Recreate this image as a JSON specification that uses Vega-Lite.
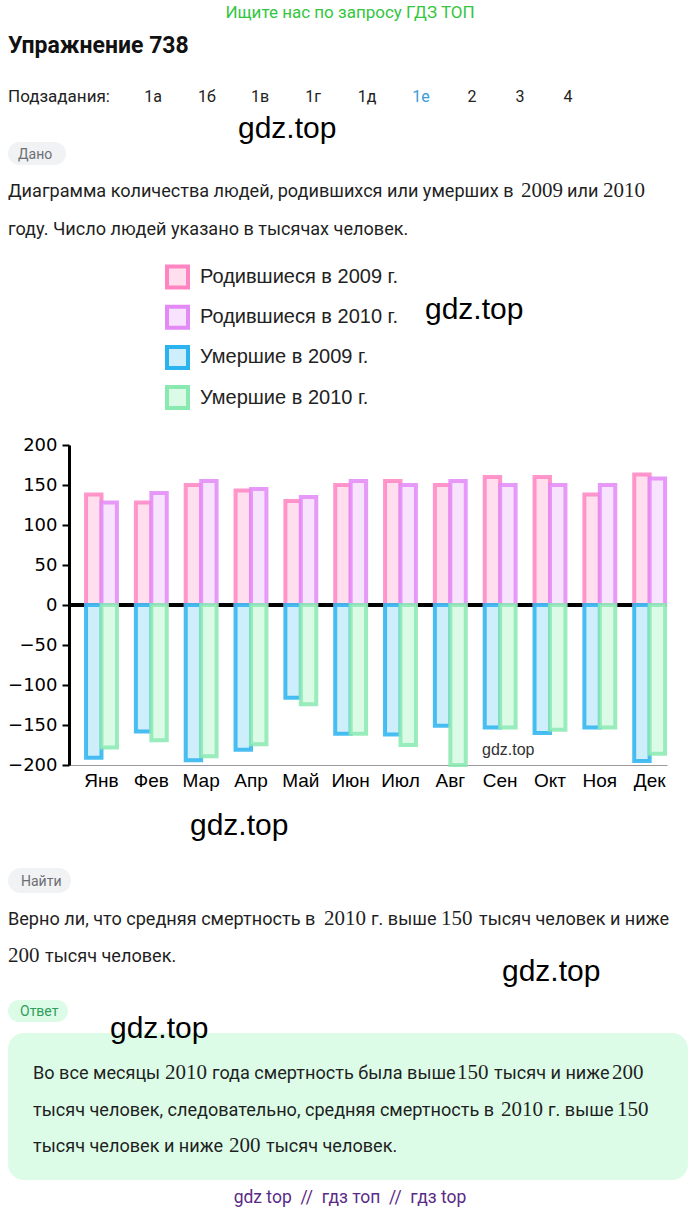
{
  "$schema": "https://vega.github.io/schema/vega-lite/v6.json",
  "width": 598,
  "height": 320,
  "autosize": {"type": "none"},
  "padding": {"left": 69, "top": 445, "right": 33, "bottom": 447},
  "background": "white",
  "config": {"view": {"stroke": null}},
  "datasets": {
    "bars": [
      {"month": "Янв", "year": "2009", "series": "Родившиеся в 2009 г.", "value": 138},
      {"month": "Фев", "year": "2009", "series": "Родившиеся в 2009 г.", "value": 128},
      {"month": "Мар", "year": "2009", "series": "Родившиеся в 2009 г.", "value": 150},
      {"month": "Апр", "year": "2009", "series": "Родившиеся в 2009 г.", "value": 143},
      {"month": "Май", "year": "2009", "series": "Родившиеся в 2009 г.", "value": 130},
      {"month": "Июн", "year": "2009", "series": "Родившиеся в 2009 г.", "value": 150},
      {"month": "Июл", "year": "2009", "series": "Родившиеся в 2009 г.", "value": 155},
      {"month": "Авг", "year": "2009", "series": "Родившиеся в 2009 г.", "value": 150},
      {"month": "Сен", "year": "2009", "series": "Родившиеся в 2009 г.", "value": 160},
      {"month": "Окт", "year": "2009", "series": "Родившиеся в 2009 г.", "value": 160},
      {"month": "Ноя", "year": "2009", "series": "Родившиеся в 2009 г.", "value": 138},
      {"month": "Дек", "year": "2009", "series": "Родившиеся в 2009 г.", "value": 163},
      {"month": "Янв", "year": "2010", "series": "Родившиеся в 2010 г.", "value": 128},
      {"month": "Фев", "year": "2010", "series": "Родившиеся в 2010 г.", "value": 140},
      {"month": "Мар", "year": "2010", "series": "Родившиеся в 2010 г.", "value": 155},
      {"month": "Апр", "year": "2010", "series": "Родившиеся в 2010 г.", "value": 145},
      {"month": "Май", "year": "2010", "series": "Родившиеся в 2010 г.", "value": 135},
      {"month": "Июн", "year": "2010", "series": "Родившиеся в 2010 г.", "value": 155},
      {"month": "Июл", "year": "2010", "series": "Родившиеся в 2010 г.", "value": 150},
      {"month": "Авг", "year": "2010", "series": "Родившиеся в 2010 г.", "value": 155},
      {"month": "Сен", "year": "2010", "series": "Родившиеся в 2010 г.", "value": 150},
      {"month": "Окт", "year": "2010", "series": "Родившиеся в 2010 г.", "value": 150},
      {"month": "Ноя", "year": "2010", "series": "Родившиеся в 2010 г.", "value": 150},
      {"month": "Дек", "year": "2010", "series": "Родившиеся в 2010 г.", "value": 158},
      {"month": "Янв", "year": "2009", "series": "Умершие в 2009 г.", "value": -191},
      {"month": "Фев", "year": "2009", "series": "Умершие в 2009 г.", "value": -158},
      {"month": "Мар", "year": "2009", "series": "Умершие в 2009 г.", "value": -194},
      {"month": "Апр", "year": "2009", "series": "Умершие в 2009 г.", "value": -181},
      {"month": "Май", "year": "2009", "series": "Умершие в 2009 г.", "value": -116},
      {"month": "Июн", "year": "2009", "series": "Умершие в 2009 г.", "value": -161},
      {"month": "Июл", "year": "2009", "series": "Умершие в 2009 г.", "value": -162},
      {"month": "Авг", "year": "2009", "series": "Умершие в 2009 г.", "value": -151},
      {"month": "Сен", "year": "2009", "series": "Умершие в 2009 г.", "value": -153},
      {"month": "Окт", "year": "2009", "series": "Умершие в 2009 г.", "value": -160},
      {"month": "Ноя", "year": "2009", "series": "Умершие в 2009 г.", "value": -153},
      {"month": "Дек", "year": "2009", "series": "Умершие в 2009 г.", "value": -195},
      {"month": "Янв", "year": "2010", "series": "Умершие в 2010 г.", "value": -178},
      {"month": "Фев", "year": "2010", "series": "Умершие в 2010 г.", "value": -169},
      {"month": "Мар", "year": "2010", "series": "Умершие в 2010 г.", "value": -189},
      {"month": "Апр", "year": "2010", "series": "Умершие в 2010 г.", "value": -174},
      {"month": "Май", "year": "2010", "series": "Умершие в 2010 г.", "value": -124},
      {"month": "Июн", "year": "2010", "series": "Умершие в 2010 г.", "value": -161},
      {"month": "Июл", "year": "2010", "series": "Умершие в 2010 г.", "value": -175},
      {"month": "Авг", "year": "2010", "series": "Умершие в 2010 г.", "value": -200},
      {"month": "Сен", "year": "2010", "series": "Умершие в 2010 г.", "value": -153},
      {"month": "Окт", "year": "2010", "series": "Умершие в 2010 г.", "value": -156},
      {"month": "Ноя", "year": "2010", "series": "Умершие в 2010 г.", "value": -153},
      {"month": "Дек", "year": "2010", "series": "Умершие в 2010 г.", "value": -186}
    ]
  },
  "layer": [
    {"data": {"values": [{}]}, "mark": {"type": "rect", "x": -61, "x2": 619, "y": 588, "y2": 735, "cornerRadius": 16, "fill": "#dcfce7"}},
    {"data": {"values": [{}]}, "mark": {"type": "rect", "x": -61, "x2": -3, "y": -303, "y2": -280, "cornerRadius": 11.5, "fill": "#f1f2f4"}},
    {"data": {"values": [{}]}, "mark": {"type": "rect", "x": -61, "x2": 2, "y": 423, "y2": 448, "cornerRadius": 12.5, "fill": "#f1f2f4"}},
    {"data": {"values": [{}]}, "mark": {"type": "rect", "x": -61, "x2": -1, "y": 555, "y2": 577, "cornerRadius": 11, "fill": "#dcfce7"}},
    {"data": {"values": [{}]}, "mark": {"type": "rule", "x": 61, "x2": 631, "y": -330, "y2": -330, "color": "#e6e6e6", "strokeWidth": 1}, "encoding": {}},
    {"data": {"values": [{}]}, "mark": {"type": "rule", "x": 329, "x2": 375, "y": -331, "y2": -331, "color": "#2aa0dd", "strokeWidth": 3}, "encoding": {}},
    {"data": {"values": [{}]}, "mark": {"type": "text", "text": "Ищите нас по запросу ГДЗ ТОП", "x": 281, "y": -427, "align": "center", "baseline": "alphabetic", "font": "Roboto", "fontSize": 17, "color": "#34c640"}},
    {"data": {"values": [{}]}, "mark": {"type": "text", "text": "Упражнение 738", "x": -61, "y": -392, "align": "left", "baseline": "alphabetic", "font": "Roboto", "fontSize": 23, "fontWeight": "bold", "color": "#111111"}},
    {"data": {"values": [{}]}, "mark": {"type": "text", "text": "Подзадания:", "x": -61, "y": -343, "align": "left", "baseline": "alphabetic", "font": "Roboto", "fontSize": 17, "color": "#222222"}},
    {"data": {"values": [{}]}, "mark": {"type": "text", "text": "1а", "x": 84, "y": -343, "align": "center", "baseline": "alphabetic", "font": "Roboto", "fontSize": 16, "color": "#222222"}},
    {"data": {"values": [{}]}, "mark": {"type": "text", "text": "1б", "x": 138, "y": -343, "align": "center", "baseline": "alphabetic", "font": "Roboto", "fontSize": 16, "color": "#222222"}},
    {"data": {"values": [{}]}, "mark": {"type": "text", "text": "1в", "x": 191, "y": -343, "align": "center", "baseline": "alphabetic", "font": "Roboto", "fontSize": 16, "color": "#222222"}},
    {"data": {"values": [{}]}, "mark": {"type": "text", "text": "1г", "x": 244, "y": -343, "align": "center", "baseline": "alphabetic", "font": "Roboto", "fontSize": 16, "color": "#222222"}},
    {"data": {"values": [{}]}, "mark": {"type": "text", "text": "1д", "x": 298, "y": -343, "align": "center", "baseline": "alphabetic", "font": "Roboto", "fontSize": 16, "color": "#222222"}},
    {"data": {"values": [{}]}, "mark": {"type": "text", "text": "1е", "x": 352, "y": -343, "align": "center", "baseline": "alphabetic", "font": "Roboto", "fontSize": 16, "color": "#3a9bd9"}},
    {"data": {"values": [{}]}, "mark": {"type": "text", "text": "2", "x": 403, "y": -343, "align": "center", "baseline": "alphabetic", "font": "Roboto", "fontSize": 16, "color": "#222222"}},
    {"data": {"values": [{}]}, "mark": {"type": "text", "text": "3", "x": 451, "y": -343, "align": "center", "baseline": "alphabetic", "font": "Roboto", "fontSize": 16, "color": "#222222"}},
    {"data": {"values": [{}]}, "mark": {"type": "text", "text": "4", "x": 499, "y": -343, "align": "center", "baseline": "alphabetic", "font": "Roboto", "fontSize": 16, "color": "#222222"}},
    {"data": {"values": [{}]}, "mark": {"type": "text", "text": "gdz.top", "x": 169, "y": -307, "align": "left", "baseline": "alphabetic", "font": "Liberation Sans", "fontSize": 30, "color": "#000000"}},
    {"data": {"values": [{}]}, "mark": {"type": "text", "text": "Дано", "x": -51, "y": -286, "align": "left", "baseline": "alphabetic", "font": "Roboto", "fontSize": 14, "color": "#6b6e73"}},
    {"data": {"values": [{}]}, "mark": {"type": "text", "text": "Диаграмма количества людей, родившихся или умерших в", "x": -61, "y": -248, "align": "left", "baseline": "alphabetic", "font": "Roboto", "fontSize": 18.1, "color": "#1f1f1f"}},
    {"data": {"values": [{}]}, "mark": {"type": "text", "text": "2009", "x": 452, "y": -248, "align": "left", "baseline": "alphabetic", "font": "Liberation Serif", "fontSize": 21, "color": "#1f1f1f"}},
    {"data": {"values": [{}]}, "mark": {"type": "text", "text": "или", "x": 498, "y": -248, "align": "left", "baseline": "alphabetic", "font": "Roboto", "fontSize": 18.1, "color": "#1f1f1f"}},
    {"data": {"values": [{}]}, "mark": {"type": "text", "text": "2010", "x": 534, "y": -248, "align": "left", "baseline": "alphabetic", "font": "Liberation Serif", "fontSize": 21, "color": "#1f1f1f"}},
    {"data": {"values": [{}]}, "mark": {"type": "text", "text": "году. Число людей указано в тысячах человек.", "x": -61, "y": -210, "align": "left", "baseline": "alphabetic", "font": "Roboto", "fontSize": 18.1, "color": "#1f1f1f"}},
    {"data": {"values": [{}]}, "mark": {"type": "text", "text": "gdz.top", "x": 356, "y": -126, "align": "left", "baseline": "alphabetic", "font": "Liberation Sans", "fontSize": 30, "color": "#000000"}},
    {"data": {"values": [{}]}, "mark": {"type": "text", "text": "gdz.top", "x": 121, "y": 390, "align": "left", "baseline": "alphabetic", "font": "Liberation Sans", "fontSize": 30, "color": "#000000"}},
    {"data": {"values": [{}]}, "mark": {"type": "text", "text": "Найти", "x": -48, "y": 441, "align": "left", "baseline": "alphabetic", "font": "Roboto", "fontSize": 14, "color": "#6b6e73"}},
    {"data": {"values": [{}]}, "mark": {"type": "text", "text": "Верно ли, что средняя смертность в", "x": -61, "y": 480, "align": "left", "baseline": "alphabetic", "font": "Roboto", "fontSize": 18.1, "color": "#1f1f1f"}},
    {"data": {"values": [{}]}, "mark": {"type": "text", "text": "2010", "x": 255, "y": 480, "align": "left", "baseline": "alphabetic", "font": "Liberation Serif", "fontSize": 21, "color": "#1f1f1f"}},
    {"data": {"values": [{}]}, "mark": {"type": "text", "text": "г. выше", "x": 302, "y": 480, "align": "left", "baseline": "alphabetic", "font": "Roboto", "fontSize": 18.1, "color": "#1f1f1f"}},
    {"data": {"values": [{}]}, "mark": {"type": "text", "text": "150", "x": 372, "y": 480, "align": "left", "baseline": "alphabetic", "font": "Liberation Serif", "fontSize": 21, "color": "#1f1f1f"}},
    {"data": {"values": [{}]}, "mark": {"type": "text", "text": "тысяч человек и ниже", "x": 410, "y": 480, "align": "left", "baseline": "alphabetic", "font": "Roboto", "fontSize": 18.1, "color": "#1f1f1f"}},
    {"data": {"values": [{}]}, "mark": {"type": "text", "text": "200", "x": -61, "y": 517, "align": "left", "baseline": "alphabetic", "font": "Liberation Serif", "fontSize": 21, "color": "#1f1f1f"}},
    {"data": {"values": [{}]}, "mark": {"type": "text", "text": "тысяч человек.", "x": -24, "y": 517, "align": "left", "baseline": "alphabetic", "font": "Roboto", "fontSize": 18.1, "color": "#1f1f1f"}},
    {"data": {"values": [{}]}, "mark": {"type": "text", "text": "gdz.top", "x": 433, "y": 536, "align": "left", "baseline": "alphabetic", "font": "Liberation Sans", "fontSize": 30, "color": "#000000"}},
    {"data": {"values": [{}]}, "mark": {"type": "text", "text": "Ответ", "x": -49, "y": 571, "align": "left", "baseline": "alphabetic", "font": "Roboto", "fontSize": 14, "color": "#2f9e5a"}},
    {"data": {"values": [{}]}, "mark": {"type": "text", "text": "gdz.top", "x": 41, "y": 593, "align": "left", "baseline": "alphabetic", "font": "Liberation Sans", "fontSize": 30, "color": "#000000"}},
    {"data": {"values": [{}]}, "mark": {"type": "text", "text": "Во все месяцы", "x": -36, "y": 634, "align": "left", "baseline": "alphabetic", "font": "Roboto", "fontSize": 18.1, "color": "#1f1f1f"}},
    {"data": {"values": [{}]}, "mark": {"type": "text", "text": "2010", "x": 96, "y": 634, "align": "left", "baseline": "alphabetic", "font": "Liberation Serif", "fontSize": 21, "color": "#1f1f1f"}},
    {"data": {"values": [{}]}, "mark": {"type": "text", "text": "года смертность была выше", "x": 143, "y": 634, "align": "left", "baseline": "alphabetic", "font": "Roboto", "fontSize": 18.1, "color": "#1f1f1f"}},
    {"data": {"values": [{}]}, "mark": {"type": "text", "text": "150", "x": 388, "y": 634, "align": "left", "baseline": "alphabetic", "font": "Liberation Serif", "fontSize": 21, "color": "#1f1f1f"}},
    {"data": {"values": [{}]}, "mark": {"type": "text", "text": "тысяч и ниже", "x": 425, "y": 634, "align": "left", "baseline": "alphabetic", "font": "Roboto", "fontSize": 18.1, "color": "#1f1f1f"}},
    {"data": {"values": [{}]}, "mark": {"type": "text", "text": "200", "x": 543, "y": 634, "align": "left", "baseline": "alphabetic", "font": "Liberation Serif", "fontSize": 21, "color": "#1f1f1f"}},
    {"data": {"values": [{}]}, "mark": {"type": "text", "text": "тысяч человек, следовательно, средняя смертность в", "x": -36, "y": 671, "align": "left", "baseline": "alphabetic", "font": "Roboto", "fontSize": 18.1, "color": "#1f1f1f"}},
    {"data": {"values": [{}]}, "mark": {"type": "text", "text": "2010", "x": 432, "y": 671, "align": "left", "baseline": "alphabetic", "font": "Liberation Serif", "fontSize": 21, "color": "#1f1f1f"}},
    {"data": {"values": [{}]}, "mark": {"type": "text", "text": "г. выше", "x": 479, "y": 671, "align": "left", "baseline": "alphabetic", "font": "Roboto", "fontSize": 18.1, "color": "#1f1f1f"}},
    {"data": {"values": [{}]}, "mark": {"type": "text", "text": "150", "x": 548, "y": 671, "align": "left", "baseline": "alphabetic", "font": "Liberation Serif", "fontSize": 21, "color": "#1f1f1f"}},
    {"data": {"values": [{}]}, "mark": {"type": "text", "text": "тысяч человек и ниже", "x": -36, "y": 707, "align": "left", "baseline": "alphabetic", "font": "Roboto", "fontSize": 18.1, "color": "#1f1f1f"}},
    {"data": {"values": [{}]}, "mark": {"type": "text", "text": "200", "x": 160, "y": 707, "align": "left", "baseline": "alphabetic", "font": "Liberation Serif", "fontSize": 21, "color": "#1f1f1f"}},
    {"data": {"values": [{}]}, "mark": {"type": "text", "text": "тысяч человек.", "x": 197, "y": 707, "align": "left", "baseline": "alphabetic", "font": "Roboto", "fontSize": 18.1, "color": "#1f1f1f"}},
    {"data": {"values": [{}]}, "mark": {"type": "text", "text": "gdz top\u00a0 //\u00a0 гдз топ\u00a0 //\u00a0 гдз top", "x": 281, "y": 758, "align": "center", "baseline": "alphabetic", "font": "Roboto", "fontSize": 17.5, "color": "#5b2a86"}},
    {
      "data": {"values": [{}]},
      "mark": {"type": "rule", "color": "black", "strokeWidth": 4},
      "encoding": {
        "y": {
          "datum": 0,
          "type": "quantitative",
          "scale": {"domain": [-200, 200], "nice": false},
          "axis": {"title": null, "values": [-200, -150, -100, -50, 0, 50, 100, 150, 200], "labelOverlap": false, "domainColor": "black", "domainWidth": 3, "tickColor": "black", "tickWidth": 2, "tickSize": 7, "labelFont": "DejaVu Sans", "labelFontSize": 18, "labelColor": "black", "labelPadding": 5, "gridColor": "#9a9a9a", "gridWidth": 1}
        }
      }
    },
    {
      "data": {"name": "bars"},
      "mark": {"type": "bar", "strokeWidth": 4, "strokeOpacity": 0.85},
      "encoding": {
        "x": {
          "field": "month",
          "type": "nominal",
          "sort": ["Янв", "Фев", "Мар", "Апр", "Май", "Июн", "Июл", "Авг", "Сен", "Окт", "Ноя", "Дек"],
          "scale": {"paddingInner": 0.38, "paddingOuter": 0.19, "align": 0.9},
          "axis": {"title": null, "labelFont": "Liberation Sans", "labelFontSize": 19, "labelColor": "black", "ticks": false, "domainColor": "#9a9a9a", "domainWidth": 1, "labelPadding": 6, "labelAngle": 0}
        },
        "xOffset": {"field": "year", "type": "nominal", "scale": {"paddingInner": 0, "paddingOuter": 0}},
        "y": {
          "field": "value",
          "type": "quantitative",
          "scale": {"domain": [-200, 200], "nice": false},
          "axis": {"title": null, "values": [-200, -150, -100, -50, 0, 50, 100, 150, 200], "labelOverlap": false, "domainColor": "black", "domainWidth": 3, "tickColor": "black", "tickWidth": 2, "tickSize": 7, "labelFont": "DejaVu Sans", "labelFontSize": 18, "labelColor": "black", "labelPadding": 5, "gridColor": "#9a9a9a", "gridWidth": 1}
        },
        "fill": {
          "field": "series",
          "type": "nominal",
          "scale": {"domain": ["Родившиеся в 2009 г.", "Родившиеся в 2010 г.", "Умершие в 2009 г.", "Умершие в 2010 г."], "range": ["#ffdfee", "#f7e3fd", "#cfeefc", "#dcfbe7"]},
          "legend": {"orient": "none", "legendX": 96, "legendY": -180.5, "title": null, "symbolType": "square", "symbolSize": 441, "symbolStrokeWidth": 4, "labelFontSize": 20, "labelFont": "Liberation Sans", "labelColor": "#222222", "labelLimit": 400, "rowPadding": 3.2, "labelOffset": 10, "padding": 0}
        },
        "stroke": {
          "field": "series",
          "type": "nominal",
          "scale": {"domain": ["Родившиеся в 2009 г.", "Родившиеся в 2010 г.", "Умершие в 2009 г.", "Умершие в 2010 г."], "range": ["#ff85c2", "#e38af7", "#2ab3ef", "#8ae9b1"]},
          "legend": {"orient": "none", "legendX": 96, "legendY": -180.5, "title": null, "symbolType": "square", "symbolSize": 441, "symbolStrokeWidth": 4, "labelFontSize": 20, "labelFont": "Liberation Sans", "labelColor": "#222222", "labelLimit": 400, "rowPadding": 3.2, "labelOffset": 10, "padding": 0}
        }
      }
    },
    {
      "data": {"values": [{}]},
      "mark": {"type": "text", "text": "gdz.top", "x": 413, "y": 310, "align": "left", "baseline": "alphabetic", "font": "Liberation Sans", "fontSize": 16, "color": "#333333"}
    }
  ]
}
